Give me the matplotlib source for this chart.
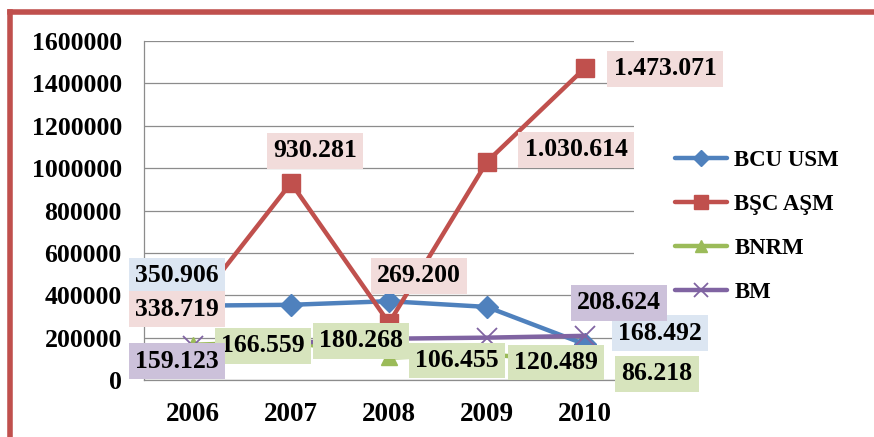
import matplotlib
matplotlib.use('Agg')
import matplotlib.pyplot as plt
from matplotlib.lines import Line2D

years = ['2006', '2007', '2008', '2009', '2010']
series_names = ['BCU USM', 'BŞC AŞM', 'BNRM', 'BM']

bcu_usm = [350906, 355000, 372000, 345000, 168492]
bsc_asm = [338719, 930281, 269200, 1030614, 1473071]
bnrm = [166559, 180268, 106455, 120489, 86218]
bm = [159123, 175000, 195000, 200000, 208624]

# which points carry a data label (text as printed on the chart)
bcu_labels = ['350.906', None, None, None, '168.492']
bsc_labels = ['338.719', '930.281', '269.200', '1.030.614', '1.473.071']
bnrm_labels = ['166.559', '180.268', '106.455', '120.489', '86.218']
bm_labels = ['159.123', None, None, None, '208.624']

COLORS = ['#4f81bd', '#c0504d', '#9bbb59', '#8064a2']
BOX_COLORS = ['#dce6f2', '#f2dcdb', '#d7e4bd', '#ccc1da']
MARKERS = [('D', 11, 1), ('s', 13, 1), ('^', 12, 1), ('x', 14, 1.3)]

# label offsets in pixels (dx right, dy down)
offsets = [
    [(-16, -30), None, None, None, (75, -11)],
    [(-16, 1), (24, -32), (30, -47), (89, -12), (80, 1)],
    [(70, 1), (70, -1), (68, 3), (69, 8), (72, 12)],
    [(-16, 15), None, None, None, (34, -33)],
]

FONT = 'Liberation Serif'

fig = plt.figure(figsize=(8.74, 4.37), dpi=100)
ax = fig.add_axes([0.1648, 0.1304, 0.5606, 0.7757])

x = list(range(len(years)))
all_values = [bcu_usm, bsc_asm, bnrm, bm]
all_labels = [bcu_labels, bsc_labels, bnrm_labels, bm_labels]

for k, (vals, name) in enumerate(zip(all_values, series_names)):
    m, ms, mew = MARKERS[k]
    ax.plot(x, vals, color=COLORS[k], lw=3.2, marker=m, markersize=ms,
            markeredgewidth=mew, markeredgecolor=COLORS[k],
            markerfacecolor=COLORS[k], label=name, zorder=3 + k,
            solid_capstyle='round')

for k, (vals, labs) in enumerate(zip(all_values, all_labels)):
    for i, (v, lab) in enumerate(zip(vals, labs)):
        if lab is None:
            continue
        dx, dy = offsets[k][i]
        ax.annotate(lab, xy=(i, v), xytext=(dx, -dy), textcoords='offset pixels',
                    ha='center', va='center', fontsize=18.5, fontweight='bold',
                    family=FONT, color='black', zorder=10 + k,
                    bbox=dict(boxstyle='square,pad=0.25', fc=BOX_COLORS[k], ec='none'),
                    annotation_clip=False)

ax.set_xlim(-0.5, 4.5)
ax.set_ylim(0, 1600000)
ax.set_yticks(range(0, 1600001, 200000))
ax.set_yticklabels([str(t) for t in range(0, 1600001, 200000)])
ax.set_xticks(x)
ax.set_xticklabels(years)
ax.tick_params(axis='y', length=0, pad=16, labelsize=18.5)
ax.tick_params(axis='x', length=0, pad=16, labelsize=19.5)
for lab in ax.get_xticklabels() + ax.get_yticklabels():
    lab.set_family(FONT)
    lab.set_fontweight('bold')

ax.grid(axis='y', color='#8c8c8c', lw=0.9, zorder=0)
ax.set_axisbelow(True)
for side in ['top', 'right']:
    ax.spines[side].set_visible(False)
for side in ['left', 'bottom']:
    ax.spines[side].set_color('#8c8c8c')
    ax.spines[side].set_linewidth(0.9)

fig.legend(loc='center left', bbox_to_anchor=(0.772, 0.482), frameon=False,
           borderpad=0, borderaxespad=0, handlelength=2.3, handletextpad=0.3,
           labelspacing=1.0, markerscale=0.75,
           prop={'family': FONT, 'weight': 'bold', 'size': 16.5})

# red frame (only top and left edges are visible)
fig.add_artist(Line2D([0.0114, 1.0], [0.9714, 0.9714], color='#c0504d', lw=4,
                      transform=fig.transFigure))
fig.add_artist(Line2D([0.0114, 0.0114], [0.0, 0.9714], color='#c0504d', lw=4,
                      transform=fig.transFigure))

fig.savefig('out.png', dpi=100)
